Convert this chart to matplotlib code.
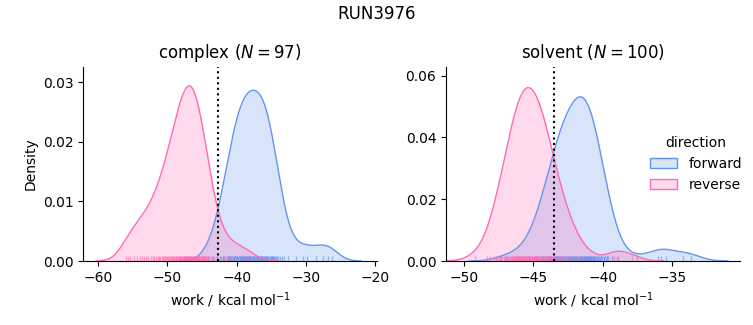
import numpy as np
import matplotlib
matplotlib.use("Agg")
import matplotlib.pyplot as plt
from matplotlib.patches import Patch

# work values per phase and direction (kcal/mol)
complex_forward = [
    -44.1, -43.3, -42.8, -42.4, -42.0, -41.9, -41.6,
    -41.43, -41.29, -41.2, -41.14, -41.0, -40.86, -40.71, -40.57,
    -40.44, -40.33, -40.22, -40.2, -40.11, -40.0, -39.89, -39.78, -39.67, -39.56,
    -39.46, -39.38, -39.29, -39.21, -39.13, -39.04, -38.96, -38.88, -38.79, -38.71, -38.63, -38.54,
    -38.46, -38.39, -38.32, -38.25, -38.18, -38.11, -38.04, -37.89, -37.75, -37.68, -37.61, -37.54,
    -37.46, -37.38, -37.23, -37.08, -37.0, -36.92, -36.85, -36.77, -36.69, -36.62, -36.54,
    -36.45, -36.36, -36.3, -36.27, -36.18, -36.09, -36.0, -35.91, -35.82, -35.73, -35.64, -35.55,
    -35.44, -35.31, -35.19, -35.1, -35.06, -34.94, -34.9, -34.81, -34.69, -34.56,
    -34.4, -34.3, -34.2, -34.0, -33.8, -33.4,
    -33.2, -32.6, -31.4,
    -30.4, -29.9, -28.5, -27.5, -26.8, -26.2,
]
complex_reverse = [
    -56.0, -55.6, -55.3, -54.8, -54.3, -53.9, -53.6, -53.3, -53.0, -52.7,
    -52.4, -52.1, -51.9, -51.6, -51.4, -51.2, -51.0, -50.8, -50.6,
    -50.43, -50.29, -50.14, -50.0, -49.86, -49.71, -49.57,
    -49.44, -49.33, -49.22, -49.11, -49.0, -48.89, -48.78, -48.67, -48.56,
    -48.45, -48.36, -48.27, -48.18, -48.09, -48.0, -47.91, -47.82, -47.73, -47.64, -47.55,
    -47.46, -47.38, -47.31, -47.23, -47.15, -47.08, -47.0, -46.95, -46.92, -46.85, -46.77, -46.69, -46.62, -46.54,
    -46.46, -46.38, -46.29, -46.21, -46.13, -46.04, -45.96, -45.9, -45.88, -45.79, -45.71, -45.63, -45.54,
    -45.45, -45.35, -45.25, -45.15, -45.05, -44.95, -44.85, -44.75, -44.65, -44.55,
    -44.42, -44.25, -44.08, -43.92, -43.75, -43.58,
    -43.38, -42.88, -42.25, -41.75,
    -41.0, -40.2, -39.1, -38.3,
]
solvent_forward = [
    -47.0, -46.0, -45.3, -45.0, -44.8,
    -44.5, -44.4, -44.3, -44.2, -44.1, -44.0, -43.9, -43.8, -43.7,
    -43.55, -43.5, -43.45, -43.4, -43.35, -43.3, -43.25, -43.2, -43.15, -43.1,
    -43.05, -43.0, -42.95, -42.9, -42.85, -42.8, -42.75, -42.7, -42.65,
    -42.57, -42.52, -42.47, -42.42, -42.37, -42.32, -42.27, -42.22, -42.17, -42.12,
    -42.07, -42.02, -41.97, -41.92, -41.87, -41.82, -41.77, -41.72, -41.67, -41.62,
    -41.58, -41.54, -41.5, -41.46, -41.42, -41.38, -41.35, -41.31, -41.27, -41.23,
    -41.19, -41.15, -41.12, -41.08, -41.04, -41.0, -40.96, -40.92, -40.88, -40.85,
    -40.81, -40.77, -40.73, -40.69, -40.65, -40.62,
    -40.56, -40.48, -40.41, -40.33, -40.25, -40.18, -40.1, -40.02, -39.94, -39.87,
    -39.79, -39.71, -39.64, -39.3, -39.0,
    -37.5, -36.0, -35.8, -35.4, -34.2, -33.6,
]
solvent_reverse = [
    -49.2, -48.35, -48.1, -47.85, -47.7, -47.6,
    -47.46, -47.38, -47.31, -47.23, -47.15, -47.08, -47.0, -46.92, -46.85, -46.77, -46.69, -46.62, -46.54,
    -46.48, -46.44, -46.4, -46.35, -46.31, -46.27, -46.23, -46.19, -46.15, -46.1, -46.06, -46.02,
    -45.98, -45.94, -45.9, -45.85, -45.81, -45.77, -45.73, -45.69, -45.65, -45.6, -45.56, -45.52,
    -45.48, -45.44, -45.37, -45.33, -45.29, -45.25, -45.21, -45.17, -45.13, -45.1, -45.06,
    -44.98, -44.94, -44.9, -44.87, -44.83, -44.79, -44.75, -44.71, -44.67, -44.63, -44.6, -44.56, -44.52,
    -44.47, -44.41, -44.34, -44.28, -44.22, -44.16, -44.09, -44.03, -43.97, -43.91, -43.9, -43.84, -43.78,
    -43.72, -43.66, -43.59, -43.53,
    -43.42, -43.3, -43.25, -43.08, -42.92, -42.9, -42.75, -42.58,
    -42.4, -42.33, -42.0, -41.67,
    -41.0, -39.2, -38.9, -37.9,
]

phases = ["complex", "solvent"]
n_label = [97, 100]
free_energy = [-42.67, -43.51]  # dotted line per phase
directions = ["forward", "reverse"]
colors = {"forward": "cornflowerblue", "reverse": "hotpink"}
data = {
    ("complex", "forward"): complex_forward,
    ("complex", "reverse"): complex_reverse,
    ("solvent", "forward"): solvent_forward,
    ("solvent", "reverse"): solvent_reverse,
}
n_total = sum(len(v) for v in data.values())


def kde(values, total):
    # gaussian kde, scott bandwidth, normalised over all samples
    v = np.asarray(values, dtype=float)
    bw = v.std(ddof=1) * len(v) ** (-1 / 5)
    grid = np.linspace(v.min() - 3 * bw, v.max() + 3 * bw, 200)
    dens = np.exp(-0.5 * ((grid[:, None] - v[None, :]) / bw) ** 2).sum(axis=1)
    dens /= bw * np.sqrt(2 * np.pi) * total
    return grid, dens


fig = plt.figure(figsize=(7.53, 3.25), dpi=100)
ax1 = fig.add_axes([0.1106, 0.1969, 0.3897, 0.5978])
ax2 = fig.add_axes([0.5923, 0.1969, 0.3904, 0.5978])
axes = [ax1, ax2]

for ax, phase, n, dg in zip(axes, phases, n_label, free_energy):
    for d in directions:
        vals = data[(phase, d)]
        x, y = kde(vals, n_total)
        ax.fill_between(x, 0, y, color=colors[d], alpha=0.25, linewidth=0)
        ax.plot(x, y, color=colors[d], lw=1)
        ax.vlines(vals, 0, 0.025, transform=ax.get_xaxis_transform(),
                  color=colors[d], lw=1, alpha=0.6)
    ax.axvline(dg, color="black", ls=":", lw=1.5)
    ax.set_title(f"{phase} ($N = {n}$)", fontsize=12)
    ax.set_xlabel("work / kcal mol$^{-1}$")
    ax.spines["top"].set_visible(False)
    ax.spines["right"].set_visible(False)

ax1.set_xlim(-62.1, -19.8)
ax1.set_ylim(0, 0.0326)
ax1.set_xticks([-60, -50, -40, -30, -20])
ax1.set_yticks([0.0, 0.01, 0.02, 0.03])
ax1.set_ylabel("Density")

ax2.set_xlim(-51.3, -30.1)
ax2.set_ylim(0, 0.0629)
ax2.set_xticks([-50, -45, -40, -35])
ax2.set_yticks([0.0, 0.02, 0.04, 0.06])

handles = [Patch(facecolor=matplotlib.colors.to_rgba(colors[d], 0.25),
                 edgecolor=colors[d], label=d) for d in directions]
ax2.legend(handles=handles, title="direction", loc="center right",
           frameon=False, bbox_to_anchor=(1.05, 0.5))

fig.suptitle("RUN3976", fontsize=12, y=0.985)
fig.savefig("out.png", dpi=100)
